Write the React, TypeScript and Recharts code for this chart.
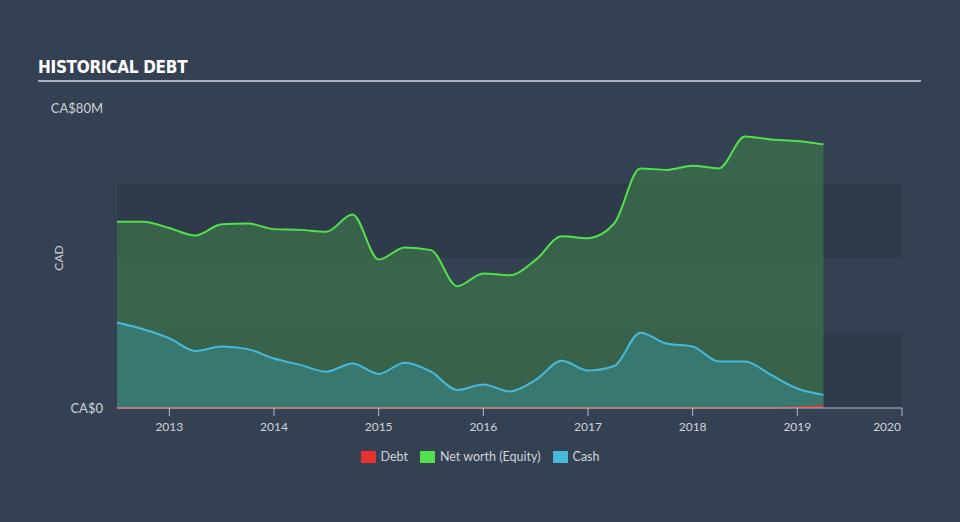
import React from 'react';
import {
  AreaChart,
  Area,
  XAxis,
  YAxis,
  ReferenceArea,
} from 'recharts';

// quarter positions (fractional years)
const years = [
  2012.5, 2012.75, 2013, 2013.25, 2013.5, 2013.75, 2014, 2014.25, 2014.5, 2014.75,
  2015, 2015.25, 2015.5, 2015.75, 2016, 2016.25, 2016.5, 2016.75, 2017, 2017.25,
  2017.5, 2017.75, 2018, 2018.25, 2018.5, 2018.75, 2019, 2019.25,
];

// values in CA$ millions
const netWorth = [
  49.7, 49.7, 48, 46, 49, 49.2, 47.7, 47.5, 47, 51.6,
  39.6, 42.8, 42.1, 32.5, 35.9, 35.4, 39.5, 45.8, 45.3, 49.2,
  63.9, 63.5, 64.6, 63.9, 72.4, 71.6, 71.2, 70.3,
];

const cash = [
  22.8, 21, 18.6, 15.2, 16.4, 15.7, 13.2, 11.5, 9.7, 11.9,
  9.1, 12.1, 9.7, 4.8, 6.3, 4.4, 7.5, 12.6, 10, 11.2,
  20.1, 17.2, 16.4, 12.4, 12.4, 8.8, 5.2, 3.5,
];

const debt = [
  0, 0, 0, 0, 0, 0, 0, 0, 0, 0,
  0, 0, 0, 0, 0, 0, 0, 0, 0, 0,
  0, 0, 0, 0, 0, 0, 0.2, 0.6,
];

const xTicks = [2013, 2014, 2015, 2016, 2017, 2018, 2019, 2020];
const yTicks = [0, 80];

const data = years.map((year, i) => ({
  year,
  netWorth: netWorth[i],
  cash: cash[i],
  debt: debt[i],
}));

const COLORS = {
  bg: '#344152',
  band: '#2f3b4b',
  debt: '#e8302e',
  netWorth: '#52e14a',
  cash: '#46b9dc',
  axis: '#b4bccb',
  text: '#cfd3da',
};

const FONT = "Lato, 'Open Sans', sans-serif";

const legendItems = [
  { label: 'Debt', color: COLORS.debt },
  { label: 'Net worth (Equity)', color: COLORS.netWorth },
  { label: 'Cash', color: COLORS.cash },
];

const XTick = (props: any) => {
  const { x, y, payload } = props;
  const last = payload.value === xTicks[xTicks.length - 1];
  return (
    <text
      x={last ? x - 1 : x}
      y={y + 13}
      textAnchor={last ? 'end' : 'middle'}
      fill={COLORS.text}
      fontSize={12}
      fontFamily={FONT}
    >
      {payload.value}
    </text>
  );
};

export default function App() {
  return (
    <div
      style={{
        position: 'absolute',
        left: 0,
        top: 0,
        width: 960,
        height: 522,
        background: COLORS.bg,
        fontFamily: FONT,
      }}
    >
      <div
        style={{
          position: 'absolute',
          left: 38,
          top: 57,
          color: '#ffffff',
          fontFamily: "'Liberation Sans Narrow', 'DejaVu Sans Condensed', sans-serif",
          fontWeight: 700,
          fontSize: 17,
          letterSpacing: -0.3,
        }}
      >
        HISTORICAL DEBT
      </div>
      <div
        style={{
          position: 'absolute',
          left: 38,
          top: 80,
          width: 883,
          height: 2,
          background: '#a9b0bb',
        }}
      />
      <AreaChart
        width={960}
        height={522}
        data={data}
        margin={{ top: 108, right: 58, left: 0, bottom: 84 }}
      >
        <ReferenceArea y1={0} y2={20} fill={COLORS.band} fillOpacity={1} stroke="none" />
        <ReferenceArea y1={40} y2={60} fill={COLORS.band} fillOpacity={1} stroke="none" />
        <XAxis
          dataKey="year"
          type="number"
          domain={[2012.5, 2020]}
          ticks={xTicks}
          allowDataOverflow
          height={30}
          stroke={COLORS.axis}
          tickSize={8}
          tick={<XTick />}
        />
        <YAxis
          domain={[0, 80]}
          ticks={yTicks}
          width={117}
          axisLine={false}
          tickLine={false}
          tickMargin={8}
          tick={{ fill: COLORS.text, fontSize: 13, fontFamily: FONT }}
          tickFormatter={(v: number) => (v === 0 ? 'CA$0' : `CA$${v}M`)}
          label={{
            value: 'CAD',
            angle: -90,
            position: 'center',
            fill: COLORS.text,
            fontSize: 12,
            fontFamily: FONT,
          }}
        />
        <Area
          type="monotone"
          dataKey="netWorth"
          stroke={COLORS.netWorth}
          strokeWidth={2}
          fill="#3f7d4a"
          fillOpacity={0.62}
          isAnimationActive={false}
        />
        <Area
          type="monotone"
          dataKey="cash"
          stroke={COLORS.cash}
          strokeWidth={2}
          fill="#3a8a8e"
          fillOpacity={0.55}
          isAnimationActive={false}
        />
        <Area
          type="monotone"
          dataKey="debt"
          stroke={COLORS.debt}
          strokeWidth={1.5}
          fill={COLORS.debt}
          fillOpacity={0.3}
          isAnimationActive={false}
        />
      </AreaChart>
      <div
        style={{
          position: 'absolute',
          top: 449,
          left: 0,
          width: 960,
          display: 'flex',
          justifyContent: 'center',
          gap: 12,
          fontSize: 12.5,
          color: COLORS.text,
        }}
      >
        {legendItems.map((it) => (
          <div key={it.label} style={{ display: 'flex', alignItems: 'center', gap: 5 }}>
            <span style={{ display: 'inline-block', width: 15, height: 12, background: it.color }} />
            <span>{it.label}</span>
          </div>
        ))}
      </div>
    </div>
  );
}
